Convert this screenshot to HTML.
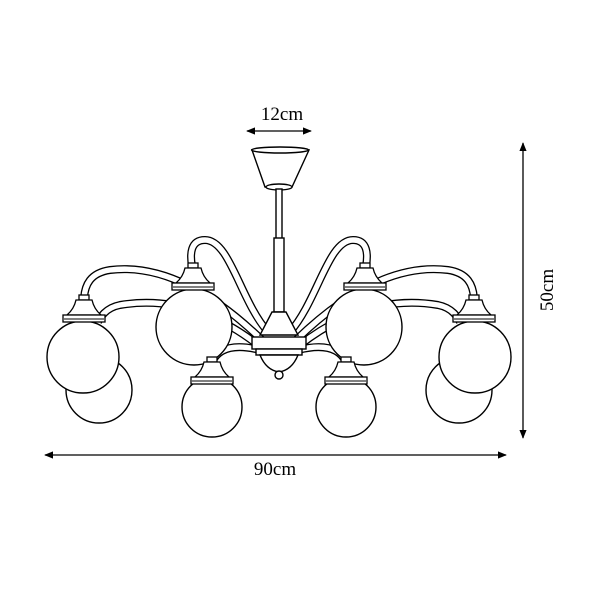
<!DOCTYPE html><html><head><style>body{margin:0;background:#fff}svg{display:block}</style></head><body>
<svg width="600" height="600" viewBox="0 0 600 600" xmlns="http://www.w3.org/2000/svg" font-family="Liberation Serif, serif">
<defs>
<marker id="a" viewBox="0 0 10 10" refX="9" refY="5" markerWidth="7" markerHeight="7" orient="auto-start-reverse"><path d="M0,1 L10,5 L0,9 Z" fill="#000"/></marker>
<g id="holder">
<rect x="-5" y="0" width="10" height="5" fill="#fff" stroke="#000" stroke-width="1.3"/>
<path d="M-8,5 L8,5 Q10,14 17,20 L-17,20 Q-10,14 -8,5 Z" fill="#fff" stroke="#000" stroke-width="1.3"/>
<rect x="-21" y="20" width="42" height="7" fill="#fff" stroke="#000" stroke-width="1.3"/>
<line x1="-20" y1="24" x2="20" y2="24" stroke="#000" stroke-width="1"/>
</g>
<g id="side">
<circle cx="99" cy="390" r="33" stroke="#000" stroke-width="1.4" fill="#fff"/>
<g fill="none">
<path id="a2" d="M258,345 C200,300 150,300 120,305 C105,308 100,318 98,322"/>
<path id="a1" d="M262,340 C200,280 150,265 110,270 C90,273 85,285 84,298"/>
<path id="a4" d="M260,350 C240,345 220,345 212,362"/>
<path id="a3" d="M268,332 C240,300 230,240 205,240 C190,240 190,255 192,266"/>
</g>
<use href="#a2" stroke="#000" stroke-width="8" fill="none"/><use href="#a2" stroke="#fff" stroke-width="5.4" fill="none"/>
<use href="#a1" stroke="#000" stroke-width="8" fill="none"/><use href="#a1" stroke="#fff" stroke-width="5.4" fill="none"/>
<use href="#a4" stroke="#000" stroke-width="8" fill="none"/><use href="#a4" stroke="#fff" stroke-width="5.4" fill="none"/>
<use href="#a3" stroke="#000" stroke-width="8" fill="none"/><use href="#a3" stroke="#fff" stroke-width="5.4" fill="none"/>
<circle cx="83" cy="357" r="36" fill="#fff" stroke="#000" stroke-width="1.4"/>
<use href="#holder" x="84" y="295"/>
<circle cx="194" cy="327" r="38" fill="#fff" stroke="#000" stroke-width="1.4"/>
<use href="#holder" x="193" y="263"/>
<circle cx="212" cy="407" r="30" fill="#fff" stroke="#000" stroke-width="1.4"/>
<use href="#holder" x="212" y="357"/>
</g>
</defs>
<use href="#side"/>
<use href="#side" transform="matrix(-1,0,0,1,558,0)"/>
<g stroke="#000" stroke-width="1.4" fill="#fff">
<path d="M252,150 L309,150 L292,187 L265,187 Z"/>
<ellipse cx="280" cy="150" rx="28.5" ry="3"/>
<ellipse cx="279" cy="187" rx="13" ry="3"/>
<rect x="276" y="189" width="6" height="50"/>
<rect x="274" y="238" width="10" height="74"/>
<path d="M272,312 L286,312 L298,335 L260,335 Z"/>
<rect x="252" y="337" width="54" height="12"/>
<rect x="256" y="349" width="46" height="6"/>
<path d="M260,355 L298,355 Q292,370 279,372 Q266,370 260,355 Z"/>
<circle cx="279" cy="375" r="4"/>
</g>
<g stroke="#000" stroke-width="1.3">
<line x1="247" y1="131" x2="311" y2="131" marker-start="url(#a)" marker-end="url(#a)"/>
<line x1="45" y1="455" x2="506" y2="455" marker-start="url(#a)" marker-end="url(#a)"/>
<line x1="523" y1="143" x2="523" y2="438" marker-start="url(#a)" marker-end="url(#a)"/>
</g>
<text x="282" y="120" font-size="19" text-anchor="middle">12cm</text>
<text x="275" y="475" font-size="19" text-anchor="middle">90cm</text>
<text transform="translate(553,290) rotate(-90)" font-size="19" text-anchor="middle">50cm</text>
</svg>
</body></html>
